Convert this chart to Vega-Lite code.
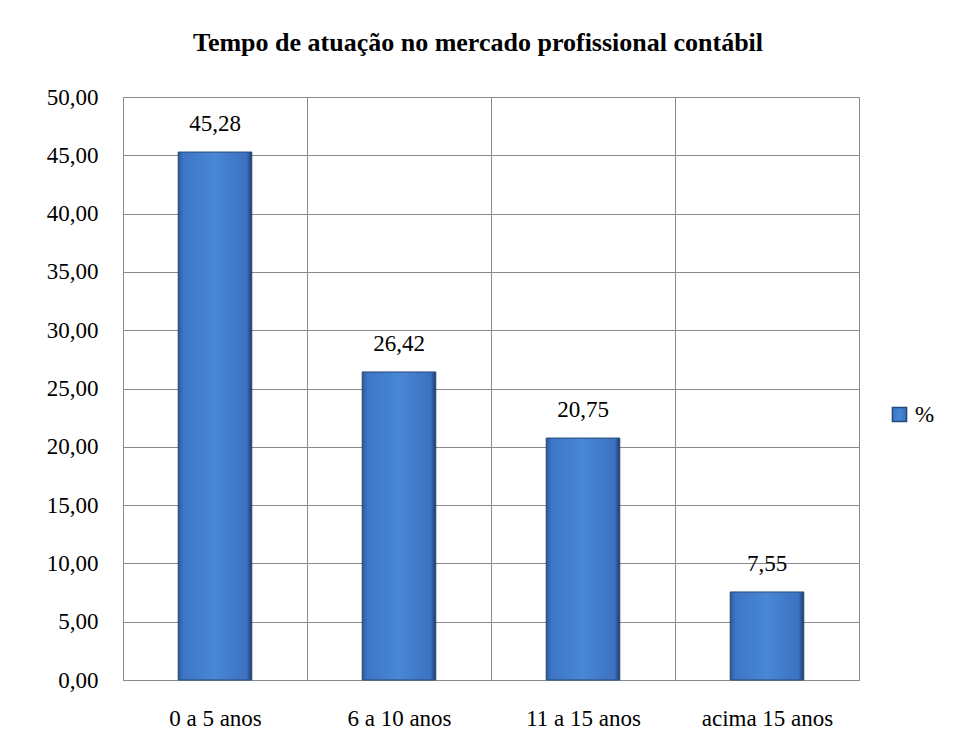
{
  "$schema": "https://vega.github.io/schema/vega-lite/v6.json",
  "autosize": {"type": "none"},
  "width": 736,
  "height": 583,
  "padding": {"left": 123, "top": 97, "right": 98, "bottom": 76},
  "background": "white",
  "title": {
    "text": "Tempo de  atuação no mercado profissional contábil",
    "font": "Liberation Serif",
    "fontSize": 26,
    "fontWeight": "bold",
    "color": "#000000",
    "anchor": "middle",
    "offset": 30,
    "dx": -13
  },
  "data": {
    "values": [
      {"categoria": "0 a 5 anos", "valor": 45.28, "serie": "%"},
      {"categoria": "6 a 10 anos", "valor": 26.42, "serie": "%"},
      {"categoria": "11 a 15 anos", "valor": 20.75, "serie": "%"},
      {"categoria": "acima 15 anos", "valor": 7.55, "serie": "%"}
    ]
  },
  "encoding": {
    "x": {
      "field": "categoria",
      "type": "nominal",
      "sort": null,
      "scale": {"paddingInner": 0, "paddingOuter": 0},
      "axis": {
        "title": null,
        "labelAngle": 0,
        "labelFont": "Liberation Serif",
        "labelFontSize": 23,
        "labelColor": "#000000",
        "labelPadding": 27,
        "ticks": false,
        "domain": false,
        "grid": true,
        "tickBand": "extent",
        "gridColor": "#8a8a8a",
        "gridWidth": 1
      }
    },
    "y": {
      "field": "valor",
      "type": "quantitative",
      "scale": {"domain": [0, 50], "nice": false},
      "axis": {
        "title": null,
        "values": [0, 5, 10, 15, 20, 25, 30, 35, 40, 45, 50],
        "labelExpr": "replace(format(datum.value, '.2f'), '.', ',')",
        "labelFont": "Liberation Serif",
        "labelFontSize": 23,
        "labelColor": "#000000",
        "labelPadding": 25,
        "ticks": false,
        "domain": false,
        "grid": true,
        "gridColor": "#8a8a8a",
        "gridWidth": 1
      }
    }
  },
  "layer": [
    {
      "mark": {
        "type": "bar",
        "width": {"band": 0.4},
        "strokeWidth": 1,
        "fill": {
          "gradient": "linear",
          "x1": 0, "y1": 0, "x2": 1, "y2": 0,
          "stops": [
            {"offset": 0, "color": "#2c5896"},
            {"offset": 0.07, "color": "#3e76c6"},
            {"offset": 0.5, "color": "#4886d6"},
            {"offset": 0.93, "color": "#3c72c0"},
            {"offset": 1, "color": "#1d3a66"}
          ]
        }
      },
      "encoding": {
        "stroke": {
          "field": "serie",
          "type": "nominal",
          "scale": {"range": ["#27497c"]},
          "legend": {
            "title": null,
            "orient": "none",
            "legendX": 765,
            "legendY": 306,
            "symbolType": "square",
            "symbolSize": 200,
            "symbolFillColor": "#3a6db4",
            "symbolStrokeColor": "#27497c",
            "labelFont": "Liberation Serif",
            "labelFontSize": 23,
            "labelColor": "#000000"
          }
        }
      }
    },
    {
      "mark": {
        "type": "text",
        "dy": -16,
        "font": "Liberation Serif",
        "fontSize": 23,
        "color": "#000000",
        "baseline": "bottom"
      },
      "encoding": {
        "text": {"field": "valor", "type": "quantitative", "format": ".2f"}
      }
    }
  ],
  "config": {
    "view": {"stroke": "#8a8a8a", "strokeWidth": 1},
    "locale": {
      "number": {"decimal": ",", "thousands": ".", "grouping": [3], "currency": ["R$", ""]}
    }
  }
}
